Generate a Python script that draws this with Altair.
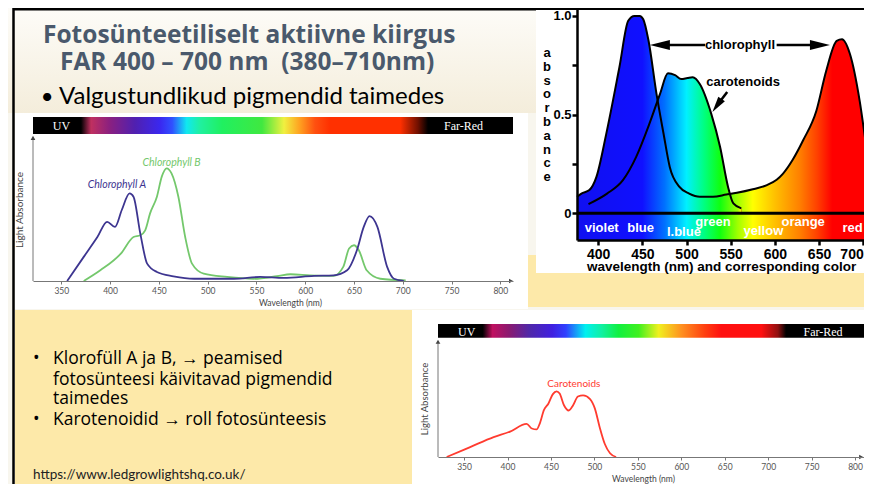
import altair as alt
import pandas as pd

# Whole slide is one layered chart; every sub-plot has its own scales whose pixel ranges
# place it on the slide (chart pixel = slide pixel - 8).

# ---------------- data: top-right absorbance chart ----------------
CHL_NM = [376, 381, 390, 398, 409, 424, 434, 441, 447, 451, 457, 466, 474, 481, 492, 503, 515, 530, 545,
          557, 575, 591, 602, 609, 620, 632, 647, 658, 670, 676, 685, 696, 704, 710]
CHL_ABS = [0.084, 0.10, 0.118, 0.185, 0.40, 0.74, 0.975, 1.0, 1.0, 0.983, 0.874, 0.605, 0.403, 0.235, 0.134,
           0.10, 0.084, 0.084, 0.095, 0.104, 0.122, 0.143, 0.17, 0.20, 0.27, 0.37, 0.52, 0.72, 0.874, 0.882,
           0.807, 0.57, 0.32, 0.134]
CAR_NM = [389, 410, 428, 443, 458, 470, 479, 487, 494, 501, 507, 515, 528, 538, 547, 553, 562]
CAR_ABS = [0.047, 0.10, 0.168, 0.286, 0.454, 0.605, 0.709, 0.70, 0.68, 0.685, 0.689, 0.655, 0.504, 0.336,
           0.134, 0.05, 0.025]
X2_DOMAIN = [376, 700.9]
Y2_DOMAIN = [-0.135, 1.04]
X2_TICKS = [400, 450, 500, 550, 600, 650, 700]
Y2_TICKS = [0, 0.25, 0.5, 0.75, 1.0]
BAND_LABELS = ["violet", "blue", "l.blue", "green", "yellow", "orange", "red"]
BAND_LABEL_NM = [404, 448, 497, 530, 587, 632, 688]
BAND_LABEL_ABS = [-0.076, -0.076, -0.096, -0.042, -0.087, -0.042, -0.076]
SPEC_NM = [376, 450, 475, 500, 520, 538, 558, 575, 600, 628, 648, 665, 710]
SPEC_COL = ["#1010f0", "#1010ff", "#0070ff", "#00f0ff", "#00ff80", "#10ff10", "#a0ff00", "#ffff00",
            "#ffc000", "#ff8000", "#ff4000", "#ff0000", "#ff0000"]

# ---------------- data: chlorophyll A / B chart ----------------
CHLA_NM = [356, 373, 387, 397, 405, 412, 420, 424, 431, 438, 448, 465, 486, 527, 554, 578, 609, 629, 643,
           653, 660, 666, 674, 684, 691, 701]
CHLA_Y = [0, 0.214, 0.39, 0.525, 0.48, 0.63, 0.777, 0.748, 0.42, 0.154, 0.08, 0.042, 0.02, 0.02, 0.036,
          0.027, 0.045, 0.05, 0.095, 0.273, 0.48, 0.576, 0.48, 0.125, 0.02, 0]
CHLB_NM = [373, 390, 411, 424, 431, 436, 441, 448, 453, 458, 463, 470, 477, 484, 496, 520, 547, 571, 585,
           605, 629, 639, 645, 650, 655, 663, 677, 703]
CHLB_Y = [0, 0.095, 0.243, 0.39, 0.406, 0.45, 0.6, 0.748, 0.926, 1.0, 0.955, 0.748, 0.39, 0.154, 0.065,
          0.036, 0.02, 0.042, 0.06, 0.05, 0.045, 0.125, 0.288, 0.317, 0.273, 0.095, 0.02, 0.006]
X1_DOMAIN = [321, 813]
Y1_DOMAIN = [0, 1.455]
BAR1 = [321, 813, 1.304, 1.455]
AXIS1_TOP = 1.27

# ---------------- data: carotenoids chart ----------------
CAR3_NM = [330, 357, 384, 403, 422, 428, 433.5, 437, 442, 447, 452, 456.5, 460, 465, 470.5, 475.5, 481,
           487, 495, 500.5, 506, 512, 518, 525]
CAR3_Y = [0, 0.151, 0.302, 0.387, 0.505, 0.434, 0.42, 0.505, 0.717, 0.811, 0.953, 1.0, 0.967, 0.788,
          0.708, 0.788, 0.92, 0.939, 0.882, 0.74, 0.458, 0.198, 0.057, 0]
X3_DOMAIN = [320, 810.3]
Y3_DOMAIN = [0, 2.024]
BAR3 = [320, 810.3, 1.816, 2.024]
AXIS3_TOP = 1.755
TICKS_350_800 = [350, 400, 450, 500, 550, 600, 650, 700, 750, 800]

BAR1_STOPS = [(0, "#000000"), (0.10, "#000000"), (0.121, "#c03060"), (0.16, "#8a2080"), (0.2125, "#5020b0"),
              (0.265, "#3a28f0"), (0.29, "#3050ff"), (0.32, "#10e8f0"), (0.348, "#20f0a0"), (0.394, "#20f060"),
              (0.477, "#40e840"), (0.523, "#f0f040"), (0.556, "#ffa020"), (0.5875, "#ff5010"),
              (0.619, "#ff3000"), (0.765, "#ff3000"), (0.802, "#701000"), (0.823, "#000000"), (1, "#000000")]
BAR3_STOPS = [(0, "#000000"), (0.105, "#000000"), (0.128, "#c01060"), (0.167, "#8a1a70"), (0.214, "#5028a8"),
              (0.268, "#4020e0"), (0.30, "#3040ff"), (0.346, "#00f0f0"), (0.385, "#10f0a0"), (0.424, "#10f040"),
              (0.471, "#40f020"), (0.518, "#f0f020"), (0.572, "#ff9020"), (0.626, "#ff4010"),
              (0.665, "#ff1010"), (0.759, "#ff1010"), (0.798, "#901010"), (0.817, "#000000"), (1, "#000000")]

W, H = 856, 476
YELLOW = "#fde9a9"
one = pd.DataFrame({"k": [0]})

# pixel placement of the three plots (ranges of their scales)
R1X, R1Y = [25, 505], [273, 109]
R2X, R2Y = [569, 856], [232, 0]
R3X, R3Y = [430, 856], [449, 316]


def deco():
    return alt.Chart(one)


def hgrad(stops):
    return alt.Gradient(gradient="linear", x1=0, x2=1, y1=0, y2=0,
                        stops=[alt.GradientStop(offset=o, color=c) for o, c in stops])


def spectrum_gradient(lo, hi):
    return hgrad([(min(max((nm - lo) / (hi - lo), 0), 1), c) for nm, c in zip(SPEC_NM, SPEC_COL)])


def vrect(x, x2, y, y2, fill):
    return deco().mark_rect(fill=fill, stroke=None).encode(
        x=alt.value(x), x2=alt.value(x2), y=alt.value(y), y2=alt.value(y2))


def vtext(text, x, y, **kw):
    return deco().mark_text(text=text, **kw).encode(x=alt.value(x), y=alt.value(y))


def sx(dom, rng, axis=None):
    return alt.X("nm:Q", scale=alt.Scale(domain=dom, range=rng, nice=False, zero=False), axis=axis)


def sy(dom, rng, axis=None):
    return alt.Y("a:Q", scale=alt.Scale(domain=dom, range=rng, nice=False, zero=False), axis=axis)


layers = []

# ================= title area =================
layers.append(vrect(0, 569, 0, 105, alt.Gradient(
    gradient="linear", x1=0, x2=0, y1=0, y2=1,
    stops=[alt.GradientStop(offset=0, color="#fdfcf8"), alt.GradientStop(offset=1, color="#f4eddb")])))
layers.append(deco().mark_rule(color="black", strokeWidth=2.5).encode(
    x=alt.value(5), x2=alt.value(W), y=alt.value(1.2)))
layers.append(deco().mark_rule(color="black", strokeWidth=2.5).encode(
    x=alt.value(5.5), y=alt.value(0), y2=alt.value(H)))
TITLE_STYLE = dict(font="Open Sans", fontSize=24.5, fontWeight="bold", color="#4a596c", align="left",
                   baseline="alphabetic")
layers.append(vtext("Fotosünteetiliselt aktiivne kiirgus", 35, 35, **TITLE_STYLE))
layers.append(vtext("FAR 400 – 700 nm\u00a0\u00a0(380–710nm)", 52, 62, **TITLE_STYLE))
layers.append(vtext("•", 39, 96, font="Lato", fontSize=22, color="black", align="center", baseline="alphabetic"))
layers.append(vtext("Valgustundlikud pigmendid taimedes", 51, 96, font="Lato", fontSize=24, color="black",
                    align="left", baseline="alphabetic"))

# ================= chart 1 : chlorophyll A / B =================
def small_xaxis(offset, title_x):
    return alt.Axis(values=TICKS_350_800, title="Wavelength (nm)", orient="bottom", offset=offset,
                    grid=False, labelFlush=False, domainColor="#777", tickColor="#777", tickSize=3,
                    labelFont="Lato", labelFontSize=8.5, labelColor="#555", labelPadding=2,
                    titleFont="Lato", titleFontSize=8.5, titleFontWeight="normal", titleColor="#444",
                    titlePadding=4, titleX=title_x, zindex=1)


def X1(axis=None):
    return sx(X1_DOMAIN, R1X, axis)


def Y1():
    return sy(Y1_DOMAIN, R1Y)


layers.append(vrect(7, 520, 105, 301, "white"))
layers.append(alt.Chart(pd.DataFrame({"nm": [BAR1[0]], "nm2": [BAR1[1]], "a": [BAR1[2]], "a2": [BAR1[3]]})
                        ).mark_rect(fill=hgrad(BAR1_STOPS)).encode(x=X1(), x2="nm2", y=Y1(), y2="a2"))
SERIF = dict(font="Liberation Serif", fontSize=12, color="white", baseline="middle", align="center")
layers.append(vtext("UV", 53.5, 118, **SERIF))
layers.append(vtext("Far-Red", 455.5, 118, **SERIF))
layers.append(alt.Chart(pd.DataFrame({"nm": [X1_DOMAIN[0]], "a": [0], "a2": [AXIS1_TOP]})).mark_rule(
    color="#777", strokeWidth=1).encode(x=X1(), y=Y1(), y2="a2"))
layers.append(alt.Chart(pd.DataFrame({"nm": [X1_DOMAIN[0]], "a": [AXIS1_TOP]})).mark_point(
    shape="triangle-up", filled=True, color="#444", opacity=1, size=22).encode(x=X1(), y=Y1()))
layers.append(alt.Chart(pd.DataFrame({"nm": [X1_DOMAIN[1] - 2], "a": [0]})).mark_point(
    shape="triangle-right", filled=True, color="#444", opacity=1, size=22).encode(x=X1(), y=Y1()))
layers.append(alt.Chart(pd.DataFrame({"nm": CHLB_NM, "a": CHLB_Y})).mark_line(
    interpolate="monotone", color="#74c86c", strokeWidth=1.8).encode(
    x=X1(small_xaxis(R1Y[0] - H, 282)), y=Y1()))
layers.append(alt.Chart(pd.DataFrame({"nm": CHLA_NM, "a": CHLA_Y})).mark_line(
    interpolate="monotone", color="#3d3590", strokeWidth=1.8).encode(x=X1(), y=Y1()))
layers.append(alt.Chart(pd.DataFrame({"nm": [407], "a": [0.85], "t": ["Chlorophyll A"]})).mark_text(
    font="Lato", fontStyle="italic", fontSize=10.5, color="#3d3590").encode(x=X1(), y=Y1(), text="t:N"))
layers.append(alt.Chart(pd.DataFrame({"nm": [463], "a": [1.05], "t": ["Chlorophyll B"]})).mark_text(
    font="Lato", fontStyle="italic", fontSize=10.5, color="#74c86c").encode(x=X1(), y=Y1(), text="t:N"))
layers.append(vtext("Light Absorbance", 12, 202, font="Lato", fontSize=10, color="#444", angle=270,
                    align="center", baseline="middle"))

# ================= text box =================
layers.append(vrect(7, 404, 302, H, YELLOW))
BUL = dict(font="Open Sans", fontSize=17.5, color="black", align="left", baseline="alphabetic")
for txt, bx, by in [("•", 25, 356), ("Klorofüll A ja B, → peamised", 45, 356),
                    ("fotosünteesi käivitavad pigmendid", 45, 377), ("taimedes", 45, 396),
                    ("•", 25, 416.5), ("Karotenoidid → roll fotosünteesis", 45, 416.5)]:
    layers.append(vtext(txt, bx, by, **BUL))
layers.append(vtext("https://www.ledgrowlightshq.co.uk/", 25, 471, font="Lato", fontSize=13.5, color="#222",
                    align="left", baseline="alphabetic"))

# ================= chart 2 : absorbance with colours =================
ax2x = alt.Axis(values=X2_TICKS, title=None, orient="bottom", offset=R2Y[0] - H, grid=False,
                domainColor="black", domainWidth=2.5, tickColor="black", tickWidth=2.5, tickSize=5,
                labelFont="Liberation Sans", labelFontWeight="bold", labelFontSize=14, labelColor="black",
                labelPadding=2, labelFlush=2, zindex=1)
ax2y = alt.Axis(values=Y2_TICKS, title=None, orient="left", offset=-R2X[0], grid=False,
                domainColor="black", domainWidth=2.5, tickColor="black", tickWidth=2.5, tickSize=5,
                labelFont="Liberation Sans", labelFontWeight="bold", labelFontSize=13, labelColor="black",
                labelPadding=1,
                labelExpr="datum.value == 1 ? '1.0' : datum.value == 0.5 ? '0.5' : datum.value == 0 ? '0' : ''",
                zindex=1)


def X2(axis=None):
    return sx(X2_DOMAIN, R2X, axis)


def Y2(axis=None):
    return sy(Y2_DOMAIN, R2Y, axis)


chl_df = pd.DataFrame({"nm": CHL_NM, "a": CHL_ABS})
car_df = pd.DataFrame({"nm": CAR_NM, "a": CAR_ABS})
layers.append(vrect(520, W, 247, 299, YELLOW))
layers.append(vrect(528, W, 2, 265, "white"))
layers.append(alt.Chart(chl_df).mark_area(
    interpolate="monotone", fill=spectrum_gradient(min(CHL_NM), max(CHL_NM))).encode(x=X2(), y=Y2()))
layers.append(alt.Chart(car_df).mark_area(
    interpolate="monotone", fill=spectrum_gradient(min(CAR_NM), max(CAR_NM))).encode(x=X2(), y=Y2()))
layers.append(alt.Chart(pd.DataFrame({"nm": [X2_DOMAIN[0]], "nm2": [X2_DOMAIN[1]], "a": [Y2_DOMAIN[0]],
                                      "a2": [0]})).mark_rect(
    fill=spectrum_gradient(X2_DOMAIN[0], X2_DOMAIN[1])).encode(x=X2(ax2x), x2="nm2", y=Y2(ax2y), y2="a2"))
layers.append(alt.Chart(pd.DataFrame({"nm": [X2_DOMAIN[0]], "nm2": [X2_DOMAIN[1]], "a": [0]})).mark_rule(
    color="black", strokeWidth=3).encode(x=X2(), x2="nm2", y=Y2()))
layers.append(alt.Chart(chl_df).mark_line(interpolate="monotone", color="black", strokeWidth=2).encode(
    x=X2(), y=Y2()))
layers.append(alt.Chart(car_df).mark_line(interpolate="monotone", color="black", strokeWidth=2).encode(
    x=X2(), y=Y2()))
layers.append(alt.Chart(pd.DataFrame({"nm": BAND_LABEL_NM, "a": BAND_LABEL_ABS, "t": BAND_LABELS})).mark_text(
    font="Liberation Sans", fontWeight="bold", fontSize=13, color="white", baseline="middle").encode(
    x=X2(), y=Y2(), text="t:N"))
layers.append(alt.Chart(pd.DataFrame({"nm": [560.5, 564], "a": [0.852, 0.664],
                                      "t": ["chlorophyll", "carotenoids"]})).mark_text(
    font="Liberation Sans", fontWeight="bold", fontSize=13, color="black", baseline="middle").encode(
    x=X2(), y=Y2(), text="t:N"))
layers.append(alt.Chart(pd.DataFrame({"nm": [470, 602, 546], "nm2": [521, 651, 534.5],
                                      "a": [0.852, 0.852, 0.615], "a2": [0.852, 0.852, 0.546]})).mark_rule(
    color="black", strokeWidth=2.5).encode(x=X2(), x2="nm2", y=Y2(), y2="a2"))
layers.append(alt.Chart(pd.DataFrame({"nm": [469.8], "a": [0.852]})).mark_point(
    shape="M-1,0L1,-0.5L1,0.5Z", filled=True, color="black", opacity=1, size=400).encode(x=X2(), y=Y2()))
layers.append(alt.Chart(pd.DataFrame({"nm": [651], "a": [0.852]})).mark_point(
    shape="M1,0L-1,-0.5L-1,0.5Z", filled=True, color="black", opacity=1, size=400).encode(x=X2(), y=Y2()))
layers.append(alt.Chart(pd.DataFrame({"nm": [534.5], "a": [0.546]})).mark_point(
    shape="M0,1L-0.5,-1L0.5,-1Z", filled=True, color="black", opacity=1, size=256, angle=35).encode(
    x=X2(), y=Y2()))
layers.append(vtext("wavelength (nm) and corresponding color", 579, 259, font="Liberation Sans",
                    fontWeight="bold", fontSize=13.5, color="black", align="left", baseline="middle"))
layers.append(vtext("a\nb\ns\no\nr\nb\na\nn\nc\ne", 539, 45, font="Liberation Sans", fontWeight="bold",
                    fontSize=13, color="black", align="center", baseline="middle", lineBreak="\n",
                    lineHeight=13.8))

# ================= chart 3 : carotenoids =================
def X3(axis=None):
    return sx(X3_DOMAIN, R3X, axis)


def Y3():
    return sy(Y3_DOMAIN, R3Y)


layers.append(vrect(404, W, 302, H, "white"))
layers.append(alt.Chart(pd.DataFrame({"nm": [BAR3[0]], "nm2": [BAR3[1]], "a": [BAR3[2]], "a2": [BAR3[3]]})
                        ).mark_rect(fill=hgrad(BAR3_STOPS)).encode(x=X3(), x2="nm2", y=Y3(), y2="a2"))
layers.append(vtext("UV", 458.7, 323.5, **SERIF))
layers.append(vtext("Far-Red", 815, 323.5, **SERIF))
layers.append(alt.Chart(pd.DataFrame({"nm": [X3_DOMAIN[0]], "a": [0], "a2": [AXIS3_TOP]})).mark_rule(
    color="#777", strokeWidth=1).encode(x=X3(), y=Y3(), y2="a2"))
layers.append(alt.Chart(pd.DataFrame({"nm": [X3_DOMAIN[0]], "a": [AXIS3_TOP]})).mark_point(
    shape="triangle-up", filled=True, color="#444", opacity=1, size=22).encode(x=X3(), y=Y3()))
layers.append(alt.Chart(pd.DataFrame({"nm": [807], "a": [0]})).mark_point(
    shape="triangle-right", filled=True, color="#444", opacity=1, size=22).encode(x=X3(), y=Y3()))
layers.append(alt.Chart(pd.DataFrame({"nm": CAR3_NM, "a": CAR3_Y})).mark_line(
    interpolate="monotone", color="#ff3b2f", strokeWidth=1.8).encode(
    x=X3(small_xaxis(R3Y[0] - H, 635)), y=Y3()))
layers.append(alt.Chart(pd.DataFrame({"nm": [476.4], "a": [1.108], "t": ["Carotenoids"]})).mark_text(
    font="Lato", fontSize=10, color="#ff3b2f").encode(x=X3(), y=Y3(), text="t:N"))
layers.append(vtext("Light Absorbance", 417, 391, font="Lato", fontSize=9.5, color="#444", angle=270,
                    align="center", baseline="middle"))

chart = alt.layer(*layers).resolve_scale(x="independent", y="independent").properties(
    width=W, height=H, autosize=alt.AutoSizeParams(type="none"), padding=0, background="#f8f6ee"
).configure_view(stroke=None)

chart.save("out.html", embed_options={"renderer": "svg", "actions": False})
